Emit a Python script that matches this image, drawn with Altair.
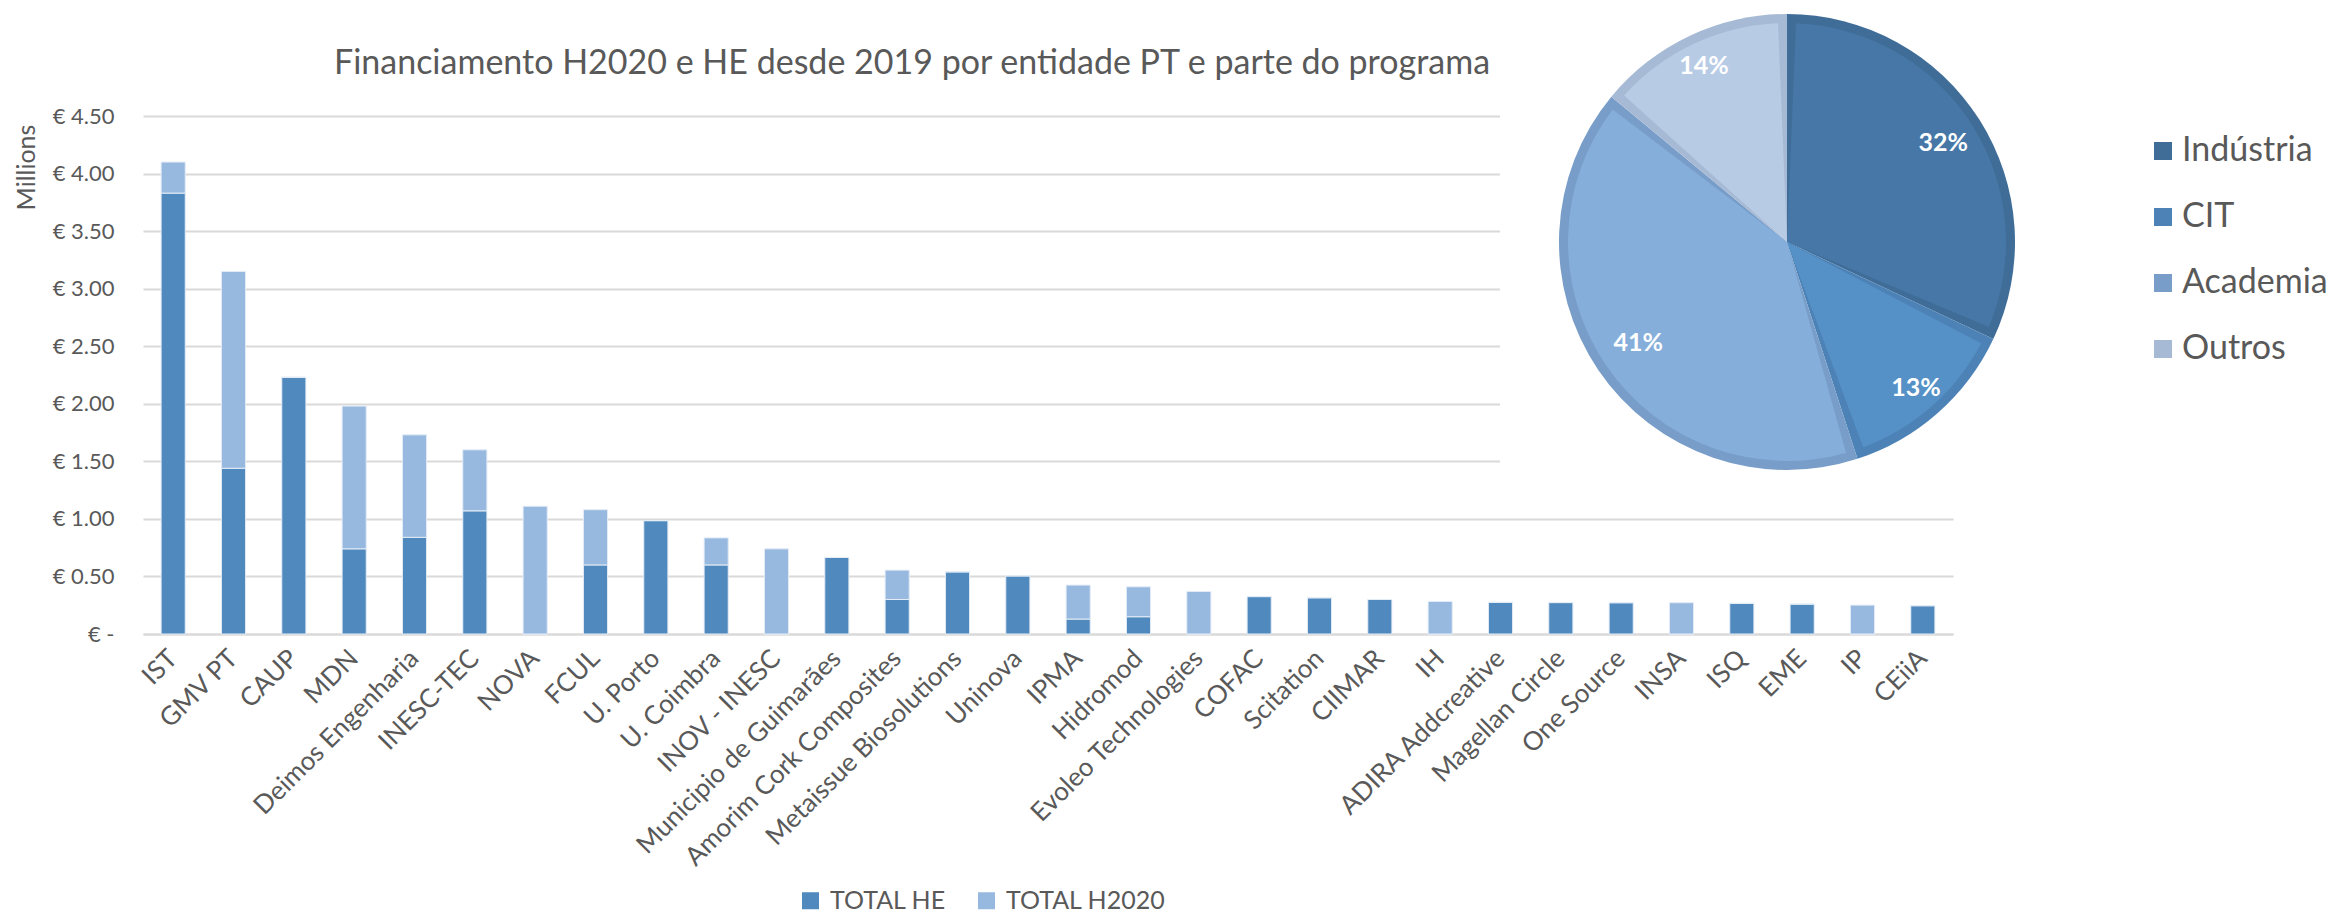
import altair as alt
import pandas as pd

# ---------------- data ----------------
entities = [
    "IST", "GMV PT", "CAUP", "MDN", "Deimos Engenharia", "INESC-TEC", "NOVA", "FCUL",
    "U. Porto", "U. Coimbra", "INOV - INESC", "Municipio de Guimarães",
    "Amorim Cork Composites", "Metaissue Biosolutions", "Uninova", "IPMA", "Hidromod",
    "Evoleo Technologies", "COFAC", "Scitation", "CIIMAR", "IH", "ADIRA Addcreative",
    "Magellan Circle", "One Source", "INSA", "ISQ", "EME", "IP", "CEiiA",
]
total_he = [3.83, 1.44, 2.23, 0.74, 0.84, 1.07, 0.00, 0.60, 0.985, 0.60, 0.00, 0.665,
            0.30, 0.54, 0.505, 0.13, 0.15, 0.00, 0.325, 0.315, 0.30, 0.00, 0.275,
            0.273, 0.272, 0.00, 0.266, 0.26, 0.00, 0.246]
total_h2020 = [0.27, 1.71, 0.00, 1.24, 0.89, 0.53, 1.11, 0.48, 0.00, 0.235, 0.74, 0.00,
               0.255, 0.00, 0.00, 0.295, 0.26, 0.37, 0.00, 0.00, 0.00, 0.283, 0.00,
               0.00, 0.00, 0.272, 0.00, 0.00, 0.251, 0.00]
series_names = ["TOTAL HE", "TOTAL H2020"]
series_colors = ["#4F89BD", "#98B9DF"]
y_ticks = [0, 0.5, 1.0, 1.5, 2.0, 2.5, 3.0, 3.5, 4.0, 4.5]

pie_categories = ["Indústria", "CIT", "Academia", "Outros"]
pie_shares = [32, 13, 41, 14]
pie_fill = ["#4677A6", "#5590C6", "#85AEDB", "#B8CBE5"]
pie_border = ["#3F6D98", "#4C82B6", "#789DC8", "#A7BAD5"]
pie_label_radius = [185, 195, 180, 195]

title_text = "Financiamento H2020 e HE desde 2019 por entidade PT e parte do programa"

# ---------------- styling / layout ----------------
FONT = "Lato"
TXT = "#595959"
GRID = "#D9D9D9"
PLOT_W, PLOT_H = 1810, 518
PAD = {"left": 135, "top": 108, "right": 377, "bottom": 282}
PIE_X, PIE_Y, PIE_R, PIE_B = 1644, 126, 228, 9

rows = []
for i, e in enumerate(entities):
    rows.append({"entity": e, "series": series_names[0], "value": total_he[i], "ord": 0})
    rows.append({"entity": e, "series": series_names[1], "value": total_h2020[i], "ord": 1})
bar_df = pd.DataFrame(rows)

pie_df = pd.DataFrame({
    "cat": pie_categories,
    "share": pie_shares,
    "idx": list(range(len(pie_categories))),
    "fillc": pie_fill,
    "lr": pie_label_radius,
    "label": [f"{s}%" for s in pie_shares],
})

label_expr = "datum.value == 0 ? '€ -' : '€ ' + format(datum.value, '.2f')"

bars = alt.Chart(bar_df).mark_bar(stroke="#E4ECF6", strokeWidth=1).encode(
    x=alt.X(
        "entity:N", sort=entities,
        scale=alt.Scale(paddingInner=0.6, paddingOuter=0.3),
        axis=alt.Axis(
            title=None, labelAngle=-45, labelAlign="right", labelBaseline="middle",
            labelFont=FONT, labelFontSize=26, labelColor=TXT, labelPadding=20,
            ticks=False, domainColor=GRID, domainWidth=2, labelOverlap=False,
            labelLimit=500,
        ),
    ),
    y=alt.Y(
        "value:Q", stack="zero",
        scale=alt.Scale(domain=[0, 4.5], nice=False),
        axis=alt.Axis(
            values=y_ticks, labelExpr=label_expr, title="Millions",
            grid=True, gridColor=GRID, gridWidth=2, domain=False, ticks=False,
            labelPadding=29, labelFont=FONT, labelFontSize=22, labelColor=TXT,
            titleFont=FONT, titleFontSize=25, titleColor=TXT, titleFontWeight="normal",
            titleAngle=270, titleX=-117, titleY=51, titleAlign="center",
            titleBaseline="middle",
        ),
    ),
    color=alt.Color(
        "series:N",
        scale=alt.Scale(domain=series_names, range=series_colors),
        legend=alt.Legend(
            orient="none", legendX=655, legendY=772, direction="horizontal",
            title=None, symbolType="square", symbolSize=289, symbolStrokeWidth=0,
            labelFont=FONT, labelFontSize=25, labelColor=TXT, columnPadding=28,
            labelOffset=7, padding=0, labelLimit=400,
        ),
    ),
    order=alt.Order("ord:Q"),
)

mask = alt.Chart(pd.DataFrame({"k": [0]})).mark_rect(color="white").encode(
    x=alt.value(1357), x2=alt.value(1816), y=alt.value(-5), y2=alt.value(374)
)

pie_base = alt.Chart(pie_df).mark_arc(outerRadius=PIE_R, innerRadius=0).encode(
    theta=alt.Theta("share:Q", stack=True),
    order=alt.Order("idx:Q"),
    fill=alt.Fill(
        "cat:N",
        scale=alt.Scale(domain=pie_categories, range=pie_border),
        legend=alt.Legend(
            orient="none", legendX=2003, legendY=18, direction="vertical",
            title=None, symbolType="square", symbolSize=324, symbolStrokeWidth=0,
            labelFont=FONT, labelFontSize=34, labelColor=TXT, rowPadding=32,
            labelOffset=2, padding=0, labelLimit=400,
        ),
    ),
    x=alt.value(PIE_X), y=alt.value(PIE_Y),
)

pie_inner = alt.Chart(pie_df).mark_arc(
    outerRadius=PIE_R - PIE_B, innerRadius=0, padAngle=0.082
).encode(
    theta=alt.Theta("share:Q", stack=True),
    order=alt.Order("idx:Q"),
    fill=alt.Fill("fillc:N", scale=None),
    x=alt.value(PIE_X), y=alt.value(PIE_Y),
)

pie_text = alt.Chart(pie_df).transform_window(
    cum="sum(share)", sort=[alt.SortField("idx")]
).transform_calculate(
    tm="(datum.cum - datum.share / 2) / 100 * 2 * PI"
).mark_text(
    font=FONT, fontSize=25, fontWeight="bold", color="white"
).encode(
    theta=alt.Theta("tm:Q", scale=None, stack=False),
    radius=alt.Radius("lr:Q", scale=None),
    text="label:N",
    x=alt.value(PIE_X), y=alt.value(PIE_Y),
)

title = alt.Chart(pd.DataFrame({"t": [title_text]})).mark_text(
    font=FONT, fontSize=34, color=TXT, align="center", baseline="alphabetic"
).encode(text="t:N", x=alt.value(769), y=alt.value(-42))

chart = alt.layer(mask, bars, pie_base, pie_inner, pie_text, title).resolve_scale(
    fill="independent"
).properties(
    width=PLOT_W, height=PLOT_H, padding=PAD,
    autosize=alt.AutoSizeParams(type="none"), background="white",
).configure_view(stroke=None)

chart.save("out.html", embed_options={"renderer": "svg", "actions": False})
